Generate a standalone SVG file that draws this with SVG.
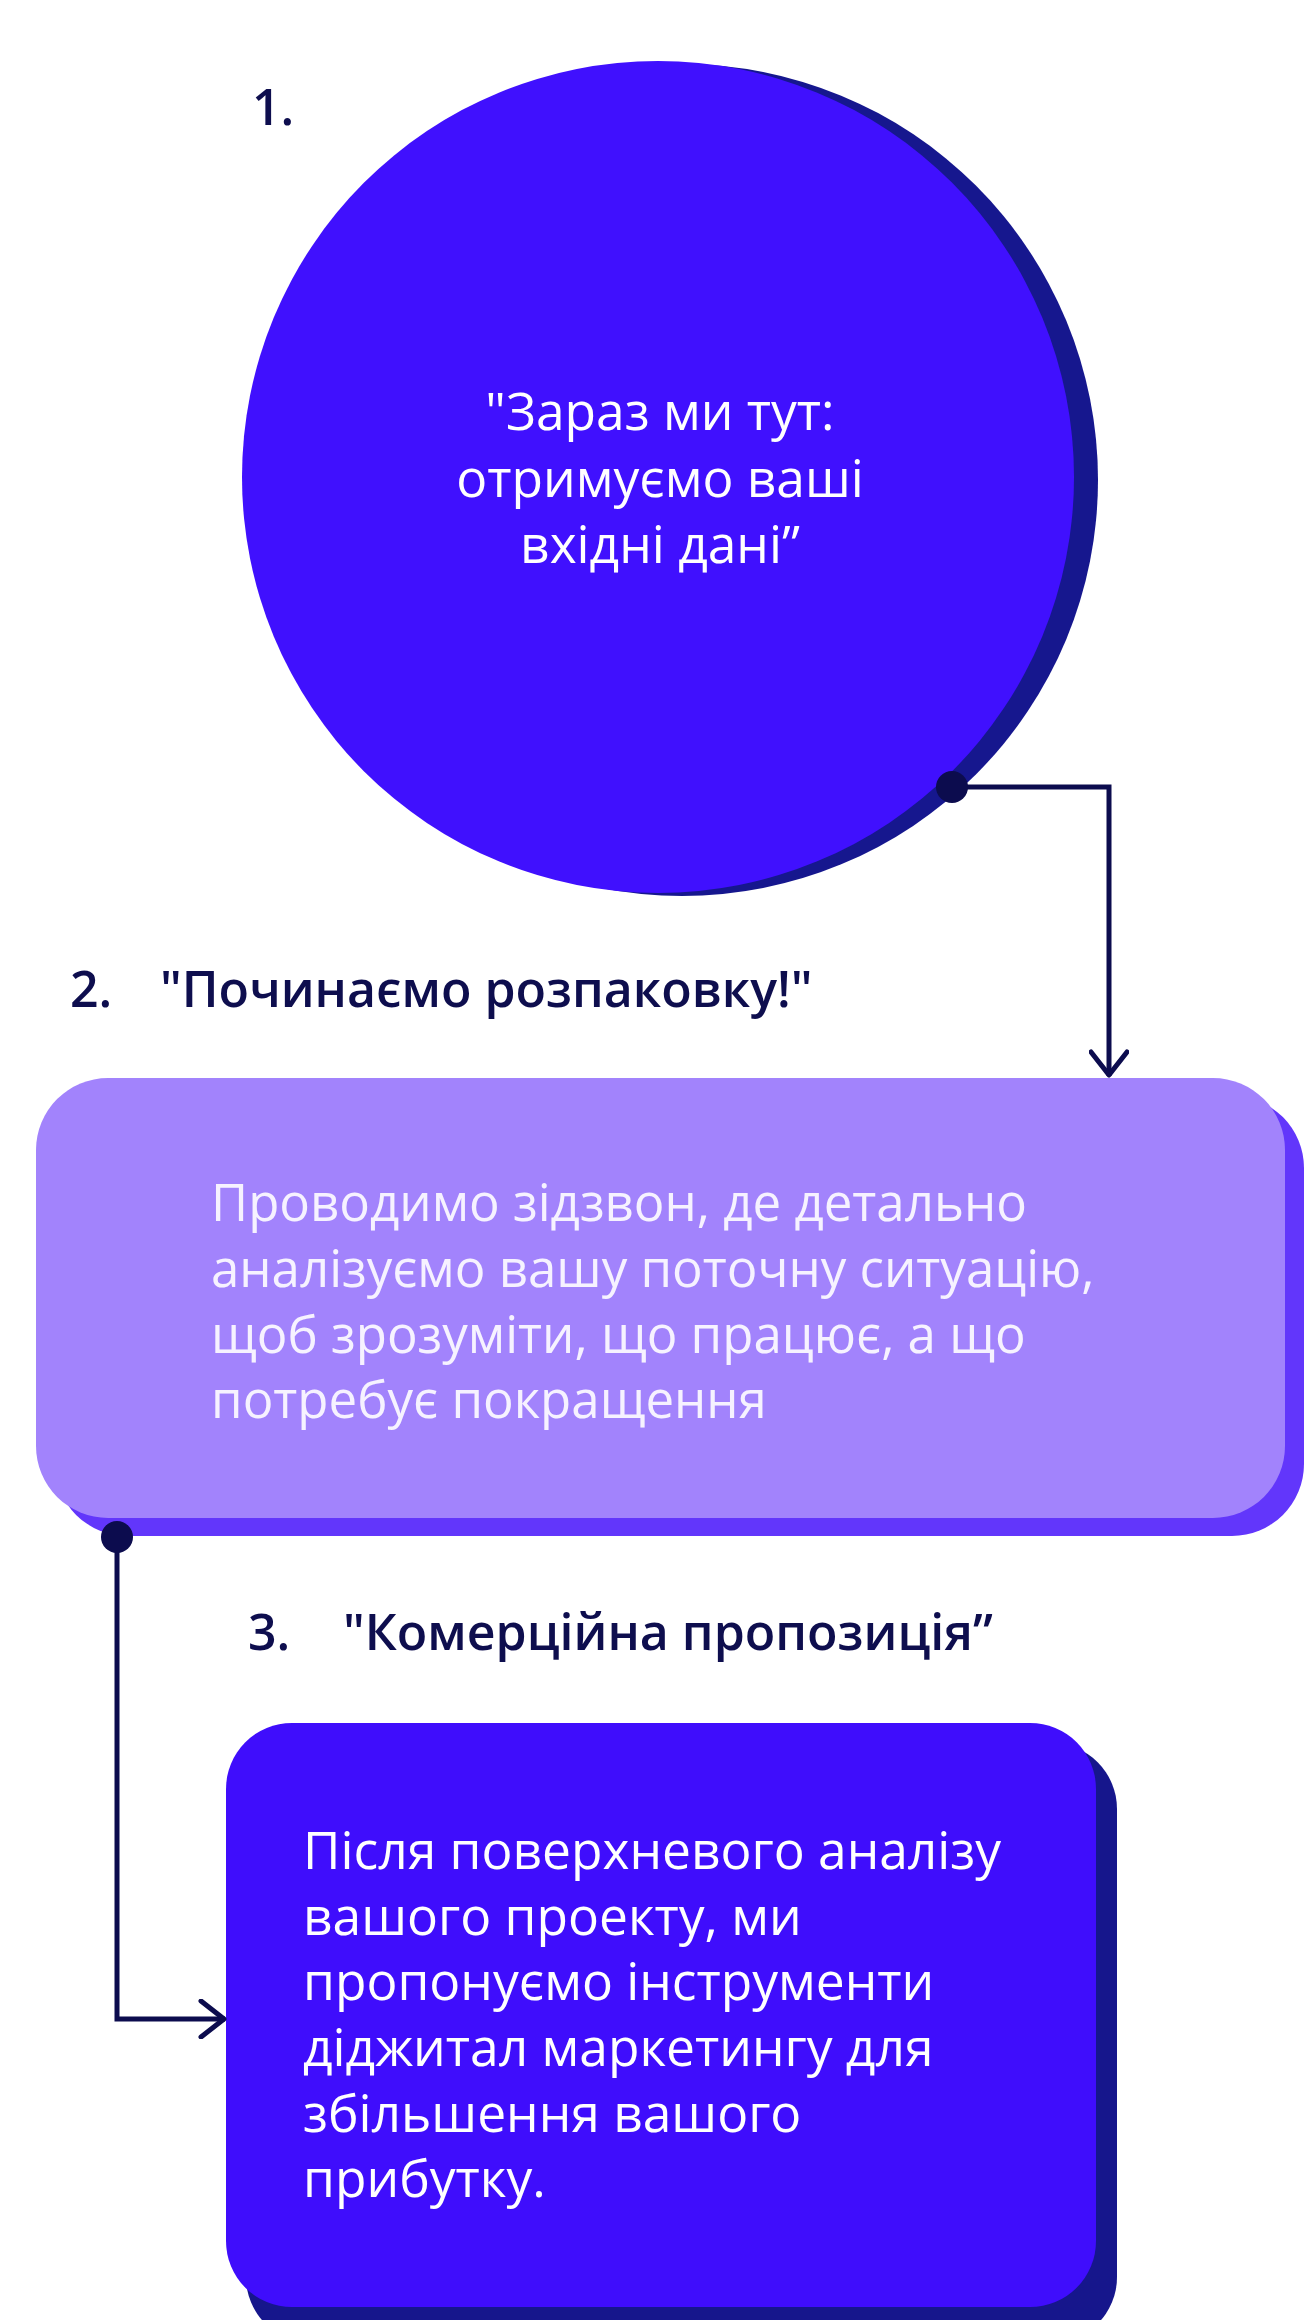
<svg xmlns="http://www.w3.org/2000/svg" width="1304" height="2320" viewBox="0 0 1304 2320">
<defs>
<style>
.lbl{font-family:"Open Sans","Noto Sans",sans-serif;font-weight:600;font-size:50px;fill:#0e0e4e}
.wt{font-family:"Open Sans","Noto Sans",sans-serif;font-size:51.5px;fill:#ffffff}
.wt2{font-family:"Open Sans","Noto Sans",sans-serif;font-size:51px;fill:#f6f2ff}
.conn{fill:none;stroke:#0c0c4e;stroke-width:5}
.dot{fill:#0c0c4e}
</style>
<marker id="arr" viewBox="0 0 30 40" refX="28" refY="20" markerWidth="30" markerHeight="40" markerUnits="userSpaceOnUse" orient="auto">
<path d="M4,2 L27,20 L4,38" fill="none" stroke="#0c0c4e" stroke-width="5" stroke-linecap="round" stroke-linejoin="round"/>
</marker>
</defs>
<rect width="1304" height="2320" fill="#ffffff"/>

<g id="label1"><text class="lbl" x="252" y="125">1.</text></g>
<g id="node1">
<circle cx="682" cy="480" r="416" fill="#16178e"/>
<circle cx="658" cy="477" r="416" fill="#4010fe"/>
<text class="wt" text-anchor="middle"><tspan x="660" y="430">"Зараз ми тут:</tspan><tspan x="660" y="497">отримуємо ваші</tspan><tspan x="660" y="563">вхідні дані”</tspan></text>
</g>

<g id="label2"><text class="lbl" x="70" y="1007">2.<tspan x="160">"Починаємо розпаковку!"</tspan></text></g>
<g id="node2">
<rect x="55" y="1096" width="1249" height="440" rx="72" fill="#6236fb"/>
<rect x="36" y="1078" width="1249" height="440" rx="72" fill="#a283fc"/>
<text class="wt2"><tspan x="211" y="1221">Проводимо зідзвон, де детально</tspan><tspan x="211" y="1287">аналізуємо вашу поточну ситуацію,</tspan><tspan x="211" y="1353">щоб зрозуміти, що працює, а що</tspan><tspan x="211" y="1418">потребує покращення</tspan></text>
</g>

<g id="label3"><text class="lbl" x="248" y="1650">3.<tspan x="343">"Комерційна пропозиція”</tspan></text></g>
<g id="node3">
<rect x="246" y="1743" width="871" height="600" rx="66" fill="#16168c"/>
<rect x="226" y="1723" width="870" height="584" rx="66" fill="#3f0dfc"/>
<text class="wt"><tspan x="303" y="1869">Після поверхневого аналізу</tspan><tspan x="303" y="1935">вашого проекту, ми</tspan><tspan x="303" y="2000">пропонуємо інструменти</tspan><tspan x="303" y="2066">діджитал маркетингу для</tspan><tspan x="303" y="2132">збільшення вашого</tspan><tspan x="303" y="2197">прибутку.</tspan></text>
</g>

<g id="connectors">
<path class="conn" d="M952,787 H1109 V1076" marker-end="url(#arr)"/>
<circle class="dot" cx="952" cy="787" r="16"/>
<path class="conn" d="M117,1537 V2019 H225" marker-end="url(#arr)"/>
<circle class="dot" cx="117" cy="1537" r="16"/>
</g>
</svg>
